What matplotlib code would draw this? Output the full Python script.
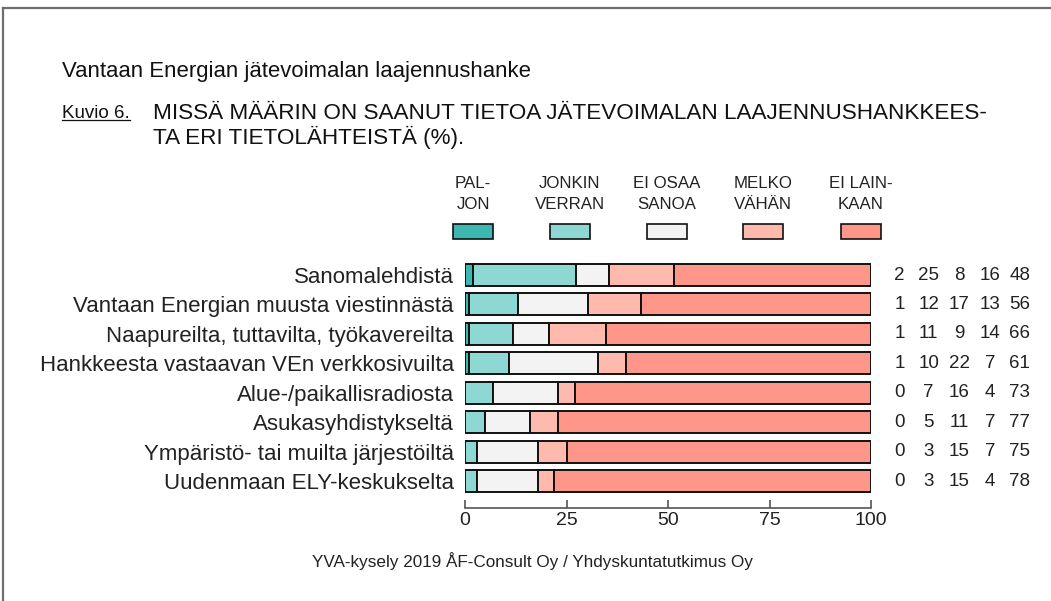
import matplotlib
matplotlib.use("Agg")
import matplotlib.pyplot as plt
from matplotlib.patches import Rectangle
from matplotlib.lines import Line2D
import numpy as np

plt.rcParams['font.family'] = ['Liberation Sans', 'DejaVu Sans']

categories = [
    "Sanomalehdistä",
    "Vantaan Energian muusta viestinnästä",
    "Naapureilta, tuttavilta, työkavereilta",
    "Hankkeesta vastaavan VEn verkkosivuilta",
    "Alue-/paikallisradiosta",
    "Asukasyhdistykseltä",
    "Ympäristö- tai muilta järjestöiltä",
    "Uudenmaan ELY-keskukselta",
]
paljon = [2, 1, 1, 1, 0, 0, 0, 0]
jonkin = [25, 12, 11, 10, 7, 5, 3, 3]
eiosaa = [8, 17, 9, 22, 16, 11, 15, 15]
melko = [16, 13, 14, 7, 4, 7, 7, 4]
eilain = [48, 56, 66, 61, 73, 77, 75, 78]
series_labels = ["PAL-\nJON", "JONKIN\nVERRAN", "EI OSAA\nSANOA", "MELKO\nVÄHÄN", "EI LAIN-\nKAAN"]
colors = ['#3db8b0', '#8dd8d2', '#f3f3f3', '#ffb9ad', '#ff968a']
xticks = [0, 25, 50, 75, 100]

W, H = 1051, 601
fig = plt.figure(figsize=(W / 100, H / 100), dpi=100)

def fx(px):
    return px / W

def fy(py):
    return 1 - py / H

# frame lines
fig.add_artist(Line2D([fx(3), 1], [fy(8), fy(8)], color='#6e6e6e', lw=1.6))
fig.add_artist(Line2D([fx(3), fx(3)], [fy(8), 0], color='#6e6e6e', lw=1.6))

# axes
row_h = (481 - 275) / 7
top_px = 275 - row_h / 2
bot_px = 481 + row_h / 2
ax = fig.add_axes([fx(465), fy(bot_px), fx(871) - fx(465), (bot_px - top_px) / H])

data = np.array([paljon, jonkin, eiosaa, melko, eilain], dtype=float)
scaled = data / data.sum(axis=0) * 100
y = np.arange(len(categories))
left = np.zeros(len(categories))
for vals, c in zip(scaled, colors):
    ax.barh(y, vals, left=left, height=0.75, color=c, edgecolor='#111111', linewidth=1.4)
    left += vals

ax.set_xlim(0, 100)
ax.set_ylim(len(categories) - 0.5, -0.5)
ax.set_yticks(y)
ax.set_yticklabels(categories)
ax.tick_params(axis='y', length=0, pad=8, labelsize=16, labelcolor='#222222')
ax.set_xticks(xticks)
ax.set_xticklabels([str(t) for t in xticks])
ax.tick_params(axis='x', direction='in', length=6, width=1.2, color='#555555', pad=3,
               labelsize=14, labelcolor='#222222')
for s in ['top', 'right', 'left']:
    ax.spines[s].set_visible(False)
ax.spines['bottom'].set_position(('outward', 9))
ax.spines['bottom'].set_color('#555555')
ax.spines['bottom'].set_linewidth(1.2)
ax.patch.set_alpha(0)

# value columns
col_x = [107, 114.2, 121.7, 129.3, 136.6]
for i in range(len(categories)):
    for j in range(5):
        ax.text(col_x[j], y[i], f"{int(data[j, i])}", ha='center', va='center',
                fontsize=13.5, color='#222222', clip_on=False)

# legend
leg_cx = [473, 569.5, 666.5, 763, 861]
for lab, c, cx in zip(series_labels, colors, leg_cx):
    fig.add_artist(Rectangle((fx(cx - 20), fy(239)), fx(40), 15 / H, facecolor=c,
                             edgecolor='#111111', linewidth=1.2))
    l1, l2 = lab.split("\n")
    fig.text(fx(cx), fy(184), l1, ha='center', va='center', fontsize=12.2, color='#222222')
    fig.text(fx(cx), fy(205), l2, ha='center', va='center', fontsize=12.2, color='#222222')

# titles
fig.text(fx(62), fy(72), "Vantaan Energian jätevoimalan laajennushanke", ha='left',
         va='center', fontsize=15.9, color='#111111')
kt = fig.text(fx(62), fy(113), "Kuvio 6.", ha='left', va='center', fontsize=13.5,
              color='#111111')
fig.text(fx(153), fy(113), "MISSÄ MÄÄRIN ON SAANUT TIETOA JÄTEVOIMALAN LAAJENNUSHANKKEES-",
         ha='left', va='center', fontsize=16.2, color='#111111')
fig.text(fx(153), fy(137), "TA ERI TIETOLÄHTEISTÄ (%).",
         ha='left', va='center', fontsize=16.2, color='#111111')
fig.text(fx(533), fy(561), "YVA-kysely 2019 ÅF-Consult Oy / Yhdyskuntatutkimus Oy",
         ha='center', va='center', fontsize=12.3, color='#222222')

fig.canvas.draw()
bb = kt.get_window_extent()
inv = fig.transFigure.inverted()
(x0, y0), (x1, y1) = inv.transform([[bb.x0, bb.y0], [bb.x1, bb.y1]])
fig.add_artist(Line2D([x0, x1], [y0 + 0.003, y0 + 0.003], color='#111111', lw=0.9))

fig.savefig("out.png", dpi=100)
